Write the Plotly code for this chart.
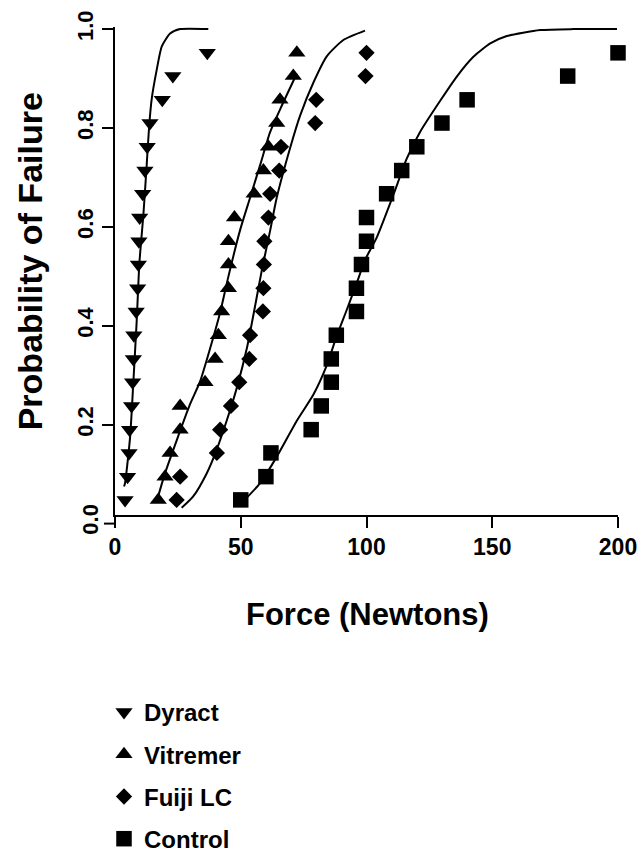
import plotly.graph_objects as go

# ---- data ----
rank_prob = [0.048, 0.095, 0.143, 0.190, 0.238, 0.286, 0.333, 0.381, 0.429, 0.476,
             0.524, 0.571, 0.619, 0.667, 0.714, 0.762, 0.810, 0.857, 0.905, 0.952]

dyract_force = [4.0, 5.0, 5.6, 5.8, 6.6, 7.0, 7.3, 7.5, 8.4, 9.0,
                9.3, 9.5, 9.8, 11.0, 11.9, 12.8, 13.9, 18.8, 23.0, 36.7]
vitremer_force = [17.2, 19.9, 21.9, 25.9, 25.9, 35.8, 39.8, 41.1, 42.4, 45.1,
                  45.1, 45.1, 47.5, 55.3, 59.0, 61.0, 64.3, 65.6, 70.9, 72.3]
fuiji_force = [24.5, 25.9, 40.5, 41.8, 46.1, 49.4, 53.4, 53.7, 58.8, 59.0,
               59.2, 59.4, 61.0, 61.7, 65.3, 66.0, 79.6, 80.0, 99.6, 100.0]
control_force = [50, 60, 62, 78, 82, 86, 86, 88, 96, 96,
                 98, 100, 100, 108, 114, 120, 130, 140, 180, 200]

# fitted curves
dyract_fit_x = [3.6, 4.0, 6.0, 7.3, 8.6, 9.7, 11.3, 12.6, 13.6, 14.6, 16.6, 18.6, 21.9, 25.9, 37.1]
dyract_fit_y = [0.075, 0.082, 0.175, 0.287, 0.407, 0.527, 0.626, 0.725, 0.805, 0.859, 0.918, 0.965, 0.991, 1.0, 1.0]

vitremer_fit_x = [16.6, 19.9, 24.5, 29.8, 33.8, 37.8, 41.8, 45.1, 49.7, 53.7, 57.7, 61.7, 66.3, 70.9, 72.3]
vitremer_fit_y = [0.045, 0.102, 0.168, 0.241, 0.287, 0.354, 0.427, 0.500, 0.593, 0.659, 0.725, 0.792, 0.845, 0.895, 0.910]

fuiji_fit_x = [26.5, 31.1, 36.5, 39.8, 44.4, 48.4, 52.4, 55.7, 58.4, 61.7, 64.3, 69.6, 73.6, 78.9, 84.2, 90.8, 99.4]
fuiji_fit_y = [0.032, 0.055, 0.102, 0.141, 0.208, 0.274, 0.354, 0.440, 0.513, 0.593, 0.659, 0.759, 0.825, 0.892, 0.945, 0.978, 0.997]

control_fit_x = [51.0, 57.7, 64.3, 72.3, 78.9, 84.2, 88.2, 92.2, 96.1, 99.4, 104.1, 110.7, 116.0, 121.3,
                 129.3, 135.9, 142.5, 149.2, 155.8, 169.1, 182.3, 199.6]
control_fit_y = [0.045, 0.082, 0.135, 0.208, 0.261, 0.320, 0.380, 0.433, 0.486, 0.533, 0.579, 0.665, 0.738, 0.792,
                 0.855, 0.904, 0.944, 0.971, 0.986, 0.998, 1.0, 1.0]

series_names = ["Dyract", "Vitremer", "Fuiji LC", "Control"]
x_ticks = [0, 50, 100, 150, 200]
y_ticks = [0.2, 0.4, 0.6, 0.8, 1.0]
y_ticktext = ["0.2", "0.4", "0.6", "0.8", "1.0"]

FONT = "Arial, Liberation Sans, sans-serif"
W, H = 640, 861


def px(x):
    return x / W


def py(y):
    return 1 - y / H


fig = go.Figure()

curves = [(dyract_fit_x, dyract_fit_y), (vitremer_fit_x, vitremer_fit_y),
          (fuiji_fit_x, fuiji_fit_y), (control_fit_x, control_fit_y)]
for cx, cy in curves:
    fig.add_trace(go.Scatter(x=cx, y=cy, mode="lines", showlegend=False, hoverinfo="skip",
                             line=dict(color="black", width=2, shape="spline", smoothing=0.6)))

markers = [
    (dyract_force, "triangle-down", 15),
    (vitremer_force, "triangle-up", 15),
    (fuiji_force, "diamond", 12.5),
    (control_force, "square", 15.5),
]
for name, (fx, sym, sz) in zip(series_names, markers):
    fig.add_trace(go.Scatter(x=fx, y=rank_prob, mode="markers", name=name, legendgroup=name,
                             cliponaxis=False, hoverinfo="skip",
                             marker=dict(symbol=sym, size=sz, color="black", line=dict(width=0))))

# plot area placed with axis domains so the outside legend/annotations never push the margins
x_dom = [px(115), px(618)]
y_dom = [py(522), py(27)]
y_rng = [0.018, 1.005]

fig.update_layout(
    width=W, height=H,
    margin=dict(l=0, r=0, t=0, b=0),
    paper_bgcolor="white", plot_bgcolor="white",
    font=dict(family=FONT, color="black"),
    showlegend=True,
    hovermode=False,
    legend=dict(x=px(104), y=py(700), xanchor="left", yanchor="top",
                font=dict(size=24, family=FONT, weight="bold"),
                tracegroupgap=8, bgcolor="rgba(0,0,0,0)", traceorder="grouped"),
    xaxis=dict(domain=x_dom, range=[0, 200], tickvals=x_ticks, ticks="outside", ticklen=11, tickwidth=2,
               tickcolor="black", showline=True, linewidth=2, linecolor="black",
               showgrid=False, zeroline=False, automargin=False, ticklabeloverflow="allow",
               tickfont=dict(size=23, family=FONT, weight="bold")),
    yaxis=dict(domain=y_dom, range=y_rng, tickvals=y_ticks, ticktext=y_ticktext, ticks="outside",
               ticklen=11, tickwidth=2, tickcolor="black", showline=True, linewidth=2,
               linecolor="black", showgrid=False, zeroline=False, tickangle=-90, automargin=False,
               tickfont=dict(size=22, family=FONT, weight="bold")),
)

# 0.0 tick of the y axis lies below the offset x-axis line
fig.add_shape(type="line", xref="paper", yref="paper", x0=px(104), x1=px(115),
              y0=py(531), y1=py(531), line=dict(color="black", width=2))
fig.add_annotation(text="0.0", xref="paper", yref="paper", x=px(91), y=py(527), showarrow=False,
                   textangle=-90, xanchor="center", yanchor="middle",
                   font=dict(size=22, family=FONT, weight="bold"))

# axis titles
fig.add_annotation(text="Force (Newtons)", xref="paper", yref="paper", x=px(367), y=py(623),
                   showarrow=False, xanchor="center", yanchor="middle",
                   font=dict(size=31, family=FONT, weight="bold"))
fig.add_annotation(text="Probability of Failure", xref="paper", yref="paper", x=px(30), y=py(265),
                   showarrow=False, textangle=-90, xanchor="center", yanchor="middle",
                   font=dict(size=34, family=FONT, weight="bold"))

# the page's default 8 px body margin would shift the whole figure; remove it
fig.write_html("out.html", config={"displayModeBar": False},
               post_script="document.body.style.margin='0px';")
